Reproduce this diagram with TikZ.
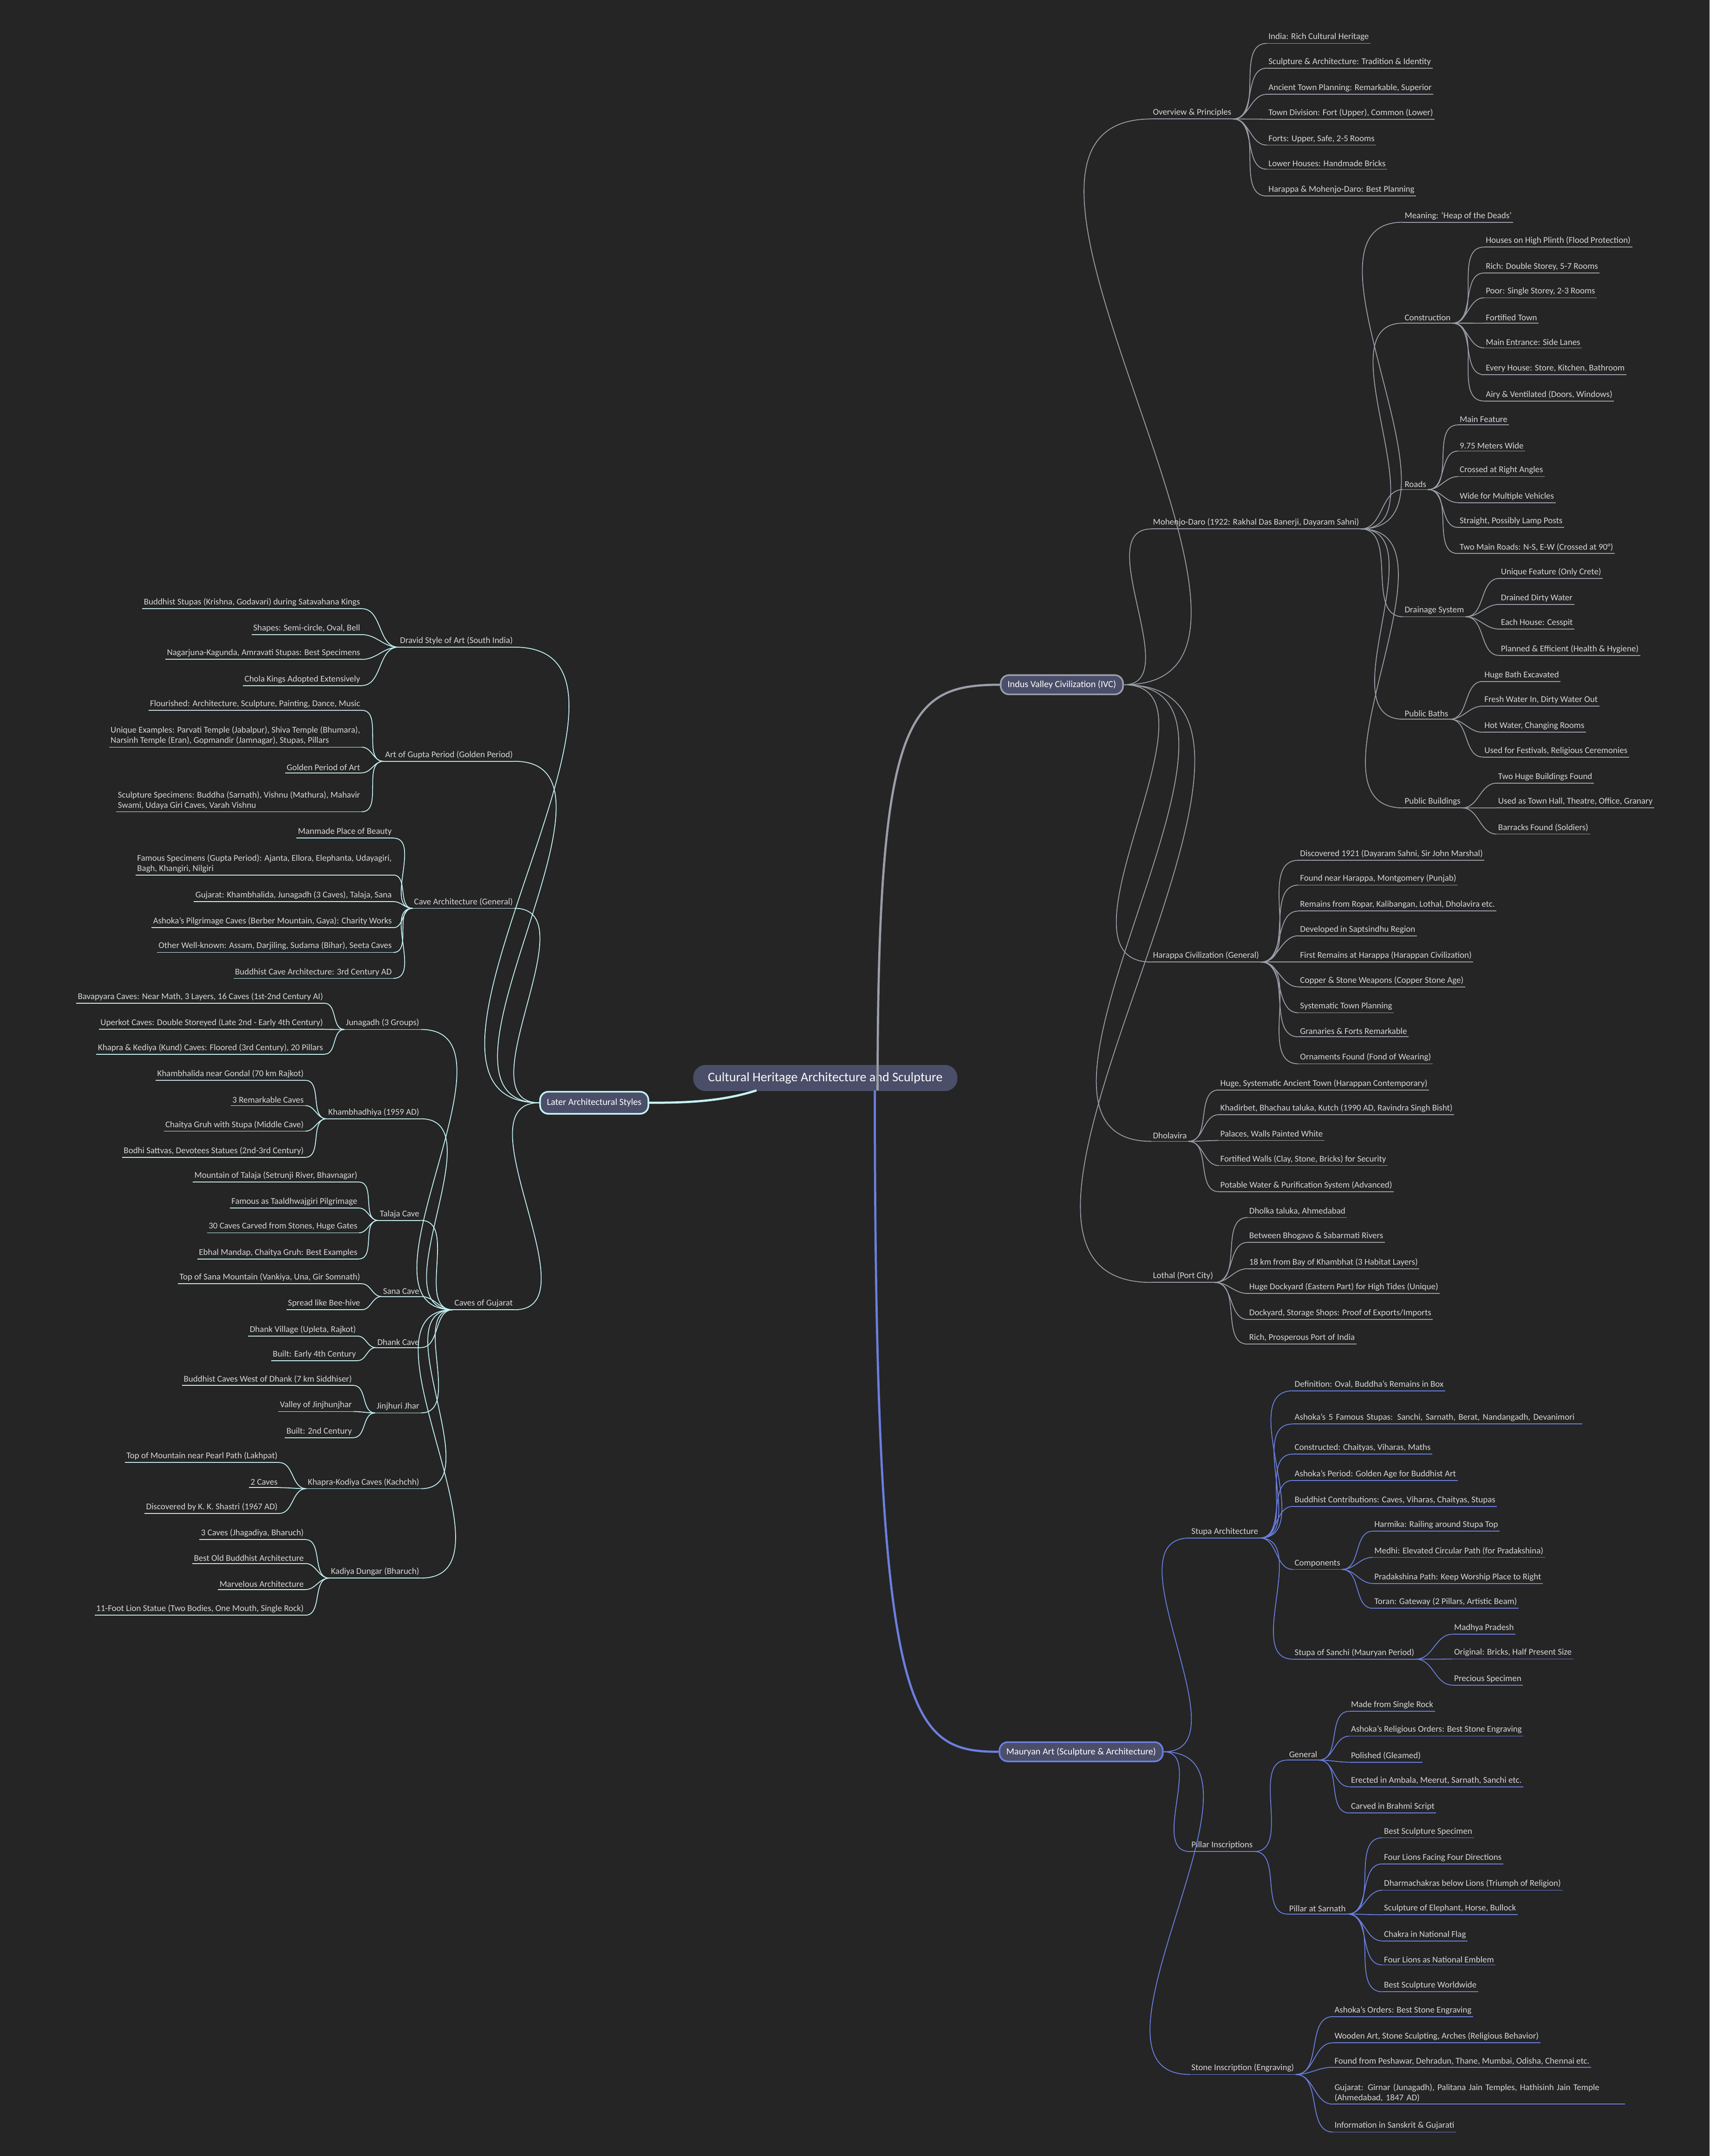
\documentclass[tikz,border=0pt]{standalone}
\usepackage{fontspec}
\setmainfont{Carlito}
\begin{document}
\begin{tikzpicture}[x=1pt,y=-1pt,
  leaf/.style={inner xsep=1pt,inner ysep=1.6pt,font=\fontsize{6.4}{7.4}\selectfont,text=txt,align=left,
    append after command={(\tikzlastnode.south west) edge[draw=br,line width=0.6pt] (\tikzlastnode.south east)}},
  conn/.style={draw=br,line width=0.6pt},
  pill/.style={draw=br,line width=1.2pt,fill=pillc,rounded corners=6pt,text=white,font=\fontsize{6.8}{8}\selectfont,minimum height=14pt,inner xsep=5pt},
  thick1/.style={draw=br,line width=1.6pt}]
\definecolor{bg}{HTML}{252525}
\definecolor{txt}{HTML}{D6D6D6}
\definecolor{pillc}{HTML}{4A4E69}
\definecolor{cgrey}{HTML}{9A9EA8}
\definecolor{cblue}{HTML}{6B7FE0}
\definecolor{ccyan}{HTML}{C4F2F5}
\fill[bg] (0,0) rectangle (1243,1568);
\useasboundingbox (0,0) rectangle (1243,1568);
\newcommand\RN[4]{\node[leaf,anchor=west] (#1) at (#2) {#3}; \draw[conn] (#4) to[out=0,in=180] (#1.south west);}
\newcommand\LN[4]{\node[leaf,anchor=east] (#1) at (#2) {#3}; \draw[conn] (#4) to[out=180,in=0] (#1.south east);}

\node[fill=pillc,rounded corners=9pt,text=white,font=\fontsize{9.5}{11}\selectfont,minimum height=19pt,minimum width=192pt] (root) at (600,784) {Cultural Heritage Architecture and Sculpture};

% ================= IVC =================
\begin{scope}
\colorlet{br}{cgrey}
\node[pill] (ivc) at (772,498) {Indus Valley Civilization (IVC)};
\draw[thick1] (638,793) .. controls (638,520) and (660,498) .. (ivc.west);
\RN{ov}{837,82}{Overview \& Principles}{ivc.east}
\RN{ov1}{921,27}{India: Rich Cultural Heritage}{ov.south east}
\RN{ov2}{921,45}{Sculpture \& Architecture: Tradition \& Identity}{ov.south east}
\RN{ov3}{921,64}{Ancient Town Planning: Remarkable, Superior}{ov.south east}
\RN{ov4}{921,82}{Town Division: Fort (Upper), Common (Lower)}{ov.south east}
\RN{ov5}{921,101}{Forts: Upper, Safe, 2-5 Rooms}{ov.south east}
\RN{ov6}{921,119}{Lower Houses: Handmade Bricks}{ov.south east}
\RN{ov7}{921,138}{Harappa \& Mohenjo-Daro: Best Planning}{ov.south east}

\RN{md}{837,380}{Mohenjo-Daro (1922: Rakhal Das Banerji, Dayaram Sahni)}{ivc.east}
\RN{md1}{1020,157}{Meaning: 'Heap of the Deads'}{md.south east}
\RN{co}{1020,231}{Construction}{md.south east}
\RN{co1}{1079,175}{Houses on High Plinth (Flood Protection)}{co.south east}
\RN{co2}{1079,194}{Rich: Double Storey, 5-7 Rooms}{co.south east}
\RN{co3}{1079,212}{Poor: Single Storey, 2-3 Rooms}{co.south east}
\RN{co4}{1079,231}{Fortified Town}{co.south east}
\RN{co5}{1079,249}{Main Entrance: Side Lanes}{co.south east}
\RN{co6}{1079,268}{Every House: Store, Kitchen, Bathroom}{co.south east}
\RN{co7}{1079,287}{Airy \& Ventilated (Doors, Windows)}{co.south east}
\RN{rd}{1020,352}{Roads}{md.south east}
\RN{rd1}{1060,305}{Main Feature}{rd.south east}
\RN{rd2}{1060,324}{9.75 Meters Wide}{rd.south east}
\RN{rd3}{1060,342}{Crossed at Right Angles}{rd.south east}
\RN{rd4}{1060,361}{Wide for Multiple Vehicles}{rd.south east}
\RN{rd5}{1060,379}{Straight, Possibly Lamp Posts}{rd.south east}
\RN{rd6}{1060,398}{Two Main Roads: N-S, E-W (Crossed at 90°)}{rd.south east}
\RN{dr}{1020,444}{Drainage System}{md.south east}
\RN{dr1}{1090,416}{Unique Feature (Only Crete)}{dr.south east}
\RN{dr2}{1090,435}{Drained Dirty Water}{dr.south east}
\RN{dr3}{1090,453}{Each House: Cesspit}{dr.south east}
\RN{dr4}{1090,472}{Planned \& Efficient (Health \& Hygiene)}{dr.south east}
\RN{pb}{1020,519}{Public Baths}{md.south east}
\RN{pb1}{1078,491}{Huge Bath Excavated}{pb.south east}
\RN{pb2}{1078,509}{Fresh Water In, Dirty Water Out}{pb.south east}
\RN{pb3}{1078,528}{Hot Water, Changing Rooms}{pb.south east}
\RN{pb4}{1078,546}{Used for Festivals, Religious Ceremonies}{pb.south east}
\RN{pu}{1020,583}{Public Buildings}{md.south east}
\RN{pu1}{1088,565}{Two Huge Buildings Found}{pu.south east}
\RN{pu2}{1088,583}{Used as Town Hall, Theatre, Office, Granary}{pu.south east}
\RN{pu3}{1088,602}{Barracks Found (Soldiers)}{pu.south east}

\RN{hc}{837,695}{Harappa Civilization (General)}{ivc.east}
\RN{hc1}{944,621}{Discovered 1921 (Dayaram Sahni, Sir John Marshal)}{hc.south east}
\RN{hc2}{944,639}{Found near Harappa, Montgomery (Punjab)}{hc.south east}
\RN{hc3}{944,658}{Remains from Ropar, Kalibangan, Lothal, Dholavira etc.}{hc.south east}
\RN{hc4}{944,676}{Developed in Saptsindhu Region}{hc.south east}
\RN{hc5}{944,695}{First Remains at Harappa (Harappan Civilization)}{hc.south east}
\RN{hc6}{944,713}{Copper \& Stone Weapons (Copper Stone Age)}{hc.south east}
\RN{hc7}{944,732}{Systematic Town Planning}{hc.south east}
\RN{hc8}{944,750}{Granaries \& Forts Remarkable}{hc.south east}
\RN{hc9}{944,769}{Ornaments Found (Fond of Wearing)}{hc.south east}

\RN{dh}{837,826}{Dholavira}{ivc.east}
\RN{dh1}{886,788}{Huge, Systematic Ancient Town (Harappan Contemporary)}{dh.south east}
\RN{dh2}{886,806}{Khadirbet, Bhachau taluka, Kutch (1990 AD, Ravindra Singh Bisht)}{dh.south east}
\RN{dh3}{886,825}{Palaces, Walls Painted White}{dh.south east}
\RN{dh4}{886,843}{Fortified Walls (Clay, Stone, Bricks) for Security}{dh.south east}
\RN{dh5}{886,862}{Potable Water \& Purification System (Advanced)}{dh.south east}

\RN{lo}{837,928}{Lothal (Port City)}{ivc.east}
\RN{lo1}{907,881}{Dholka taluka, Ahmedabad}{lo.south east}
\RN{lo2}{907,899}{Between Bhogavo \& Sabarmati Rivers}{lo.south east}
\RN{lo3}{907,918}{18 km from Bay of Khambhat (3 Habitat Layers)}{lo.south east}
\RN{lo4}{907,936}{Huge Dockyard (Eastern Part) for High Tides (Unique)}{lo.south east}
\RN{lo5}{907,955}{Dockyard, Storage Shops: Proof of Exports/Imports}{lo.south east}
\RN{lo6}{907,973}{Rich, Prosperous Port of India}{lo.south east}
\end{scope}

% ================= Mauryan =================
\begin{scope}
\colorlet{br}{cblue}
\node[pill] (ma) at (786,1274) {Mauryan Art (Sculpture \& Architecture)};
\draw[thick1] (636,793) .. controls (636,1250) and (660,1274) .. (ma.west);
\RN{st}{865,1114}{Stupa Architecture}{ma.east}
\RN{st1}{940,1007}{Definition: Oval, Buddha's Remains in Box}{st.south east}
\node[leaf,anchor=west,text width=208pt] (st2) at (940,1031) {Ashoka's 5 Famous Stupas: Sanchi, Sarnath, Berat, Nandangadh, Devanimori};
\draw[conn] (st.south east) to[out=0,in=180] (st2.south west);
\RN{st3}{940,1053}{Constructed: Chaityas, Viharas, Maths}{st.south east}
\RN{st4}{940,1072}{Ashoka's Period: Golden Age for Buddhist Art}{st.south east}
\RN{st5}{940,1091}{Buddhist Contributions: Caves, Viharas, Chaityas, Stupas}{st.south east}
\RN{cp}{940,1137}{Components}{st.south east}
\RN{cp1}{998,1109}{Harmika: Railing around Stupa Top}{cp.south east}
\RN{cp2}{998,1128}{Medhi: Elevated Circular Path (for Pradakshina)}{cp.south east}
\RN{cp3}{998,1147}{Pradakshina Path: Keep Worship Place to Right}{cp.south east}
\RN{cp4}{998,1165}{Toran: Gateway (2 Pillars, Artistic Beam)}{cp.south east}
\RN{sa}{940,1202}{Stupa of Sanchi (Mauryan Period)}{st.south east}
\RN{sa1}{1056,1184}{Madhya Pradesh}{sa.south east}
\RN{sa2}{1056,1202}{Original: Bricks, Half Present Size}{sa.south east}
\RN{sa3}{1056,1221}{Precious Specimen}{sa.south east}

\RN{pi}{865,1342}{Pillar Inscriptions}{ma.east}
\RN{ge}{936,1276}{General}{pi.south east}
\RN{ge1}{981,1240}{Made from Single Rock}{ge.south east}
\RN{ge2}{981,1258}{Ashoka's Religious Orders: Best Stone Engraving}{ge.south east}
\RN{ge3}{981,1277}{Polished (Gleamed)}{ge.south east}
\RN{ge4}{981,1295}{Erected in Ambala, Meerut, Sarnath, Sanchi etc.}{ge.south east}
\RN{ge5}{981,1314}{Carved in Brahmi Script}{ge.south east}
\RN{ps}{936,1388}{Pillar at Sarnath}{pi.south east}
\RN{ps1}{1005,1332}{Best Sculpture Specimen}{ps.south east}
\RN{ps2}{1005,1351}{Four Lions Facing Four Directions}{ps.south east}
\RN{ps3}{1005,1370}{Dharmachakras below Lions (Triumph of Religion)}{ps.south east}
\RN{ps4}{1005,1388}{Sculpture of Elephant, Horse, Bullock}{ps.south east}
\RN{ps5}{1005,1407}{Chakra in National Flag}{ps.south east}
\RN{ps6}{1005,1425}{Four Lions as National Emblem}{ps.south east}
\RN{ps7}{1005,1444}{Best Sculpture Worldwide}{ps.south east}

\RN{si}{865,1504}{Stone Inscription (Engraving)}{ma.east}
\RN{si1}{969,1462}{Ashoka's Orders: Best Stone Engraving}{si.south east}
\RN{si2}{969,1481}{Wooden Art, Stone Sculpting, Arches (Religious Behavior)}{si.south east}
\RN{si3}{969,1499}{Found from Peshawar, Dehradun, Thane, Mumbai, Odisha, Chennai etc.}{si.south east}
\node[leaf,anchor=west,text width=210pt] (si4) at (969,1522) {Gujarat: Girnar (Junagadh), Palitana Jain Temples, Hathisinh Jain Temple (Ahmedabad, 1847 AD)};
\draw[conn] (si.south east) to[out=0,in=180] (si4.south west);
\RN{si5}{969,1546}{Information in Sanskrit \& Gujarati}{si.south east}
\end{scope}

% ================= Later =================
\begin{scope}
\colorlet{br}{ccyan}
\node[pill,minimum height=16pt] (la) at (432,802) {Later Architectural Styles};
\draw[thick1] (550,793) .. controls (525,801) and (500,802) .. (la.east);
\LN{dv}{374,466}{Dravid Style of Art (South India)}{la.west}
\LN{dv1}{263,438}{Buddhist Stupas (Krishna, Godavari) during Satavahana Kings}{dv.south west}
\LN{dv2}{263,457}{Shapes: Semi-circle, Oval, Bell}{dv.south west}
\LN{dv3}{263,475}{Nagarjuna-Kagunda, Amravati Stupas: Best Specimens}{dv.south west}
\LN{dv4}{263,494}{Chola Kings Adopted Extensively}{dv.south west}

\LN{gu}{374,549}{Art of Gupta Period (Golden Period)}{la.west}
\LN{gu1}{263,512}{Flourished: Architecture, Sculpture, Painting, Dance, Music}{gu.south west}
\LN{gu2}{263,535}{Unique Examples: Parvati Temple (Jabalpur), Shiva Temple (Bhumara),\\Narsinh Temple (Eran), Gopmandir (Jamnagar), Stupas, Pillars}{gu.south west}
\LN{gu3}{263,558}{Golden Period of Art}{gu.south west}
\LN{gu4}{263,582}{Sculpture Specimens: Buddha (Sarnath), Vishnu (Mathura), Mahavir\\Swami, Udaya Giri Caves, Varah Vishnu}{gu.south west}

\LN{ca}{374,656}{Cave Architecture (General)}{la.west}
\LN{ca1}{286,605}{Manmade Place of Beauty}{ca.south west}
\LN{ca2}{286,628}{Famous Specimens (Gupta Period): Ajanta, Ellora, Elephanta, Udayagiri,\\Bagh, Khangiri, Nilgiri}{ca.south west}
\LN{ca3}{286,651}{Gujarat: Khambhalida, Junagadh (3 Caves), Talaja, Sana}{ca.south west}
\LN{ca4}{286,670}{Ashoka's Pilgrimage Caves (Berber Mountain, Gaya): Charity Works}{ca.south west}
\LN{ca5}{286,688}{Other Well-known: Assam, Darjiling, Sudama (Bihar), Seeta Caves}{ca.south west}
\LN{ca6}{286,707}{Buddhist Cave Architecture: 3rd Century AD}{ca.south west}

\LN{cg}{374,948}{Caves of Gujarat}{la.west}
\LN{jg}{306,744}{Junagadh (3 Groups)}{cg.south west}
\LN{jg1}{236,725}{Bavapyara Caves: Near Math, 3 Layers, 16 Caves (1st-2nd Century AI)}{jg.south west}
\LN{jg2}{236,744}{Uperkot Caves: Double Storeyed (Late 2nd - Early 4th Century)}{jg.south west}
\LN{jg3}{236,762}{Khapra \& Kediya (Kund) Caves: Floored (3rd Century), 20 Pillars}{jg.south west}
\LN{kb}{306,809}{Khambhadhiya (1959 AD)}{cg.south west}
\LN{kb1}{222,781}{Khambhalida near Gondal (70 km Rajkot)}{kb.south west}
\LN{kb2}{222,800}{3 Remarkable Caves}{kb.south west}
\LN{kb3}{222,818}{Chaitya Gruh with Stupa (Middle Cave)}{kb.south west}
\LN{kb4}{222,837}{Bodhi Sattvas, Devotees Statues (2nd-3rd Century)}{kb.south west}
\LN{tj}{306,883}{Talaja Cave}{cg.south west}
\LN{tj1}{261,855}{Mountain of Talaja (Setrunji River, Bhavnagar)}{tj.south west}
\LN{tj2}{261,874}{Famous as Taaldhwajgiri Pilgrimage}{tj.south west}
\LN{tj3}{261,892}{30 Caves Carved from Stones, Huge Gates}{tj.south west}
\LN{tj4}{261,911}{Ebhal Mandap, Chaitya Gruh: Best Examples}{tj.south west}
\LN{sn}{306,939}{Sana Cave}{cg.south west}
\LN{sn1}{263,929}{Top of Sana Mountain (Vankiya, Una, Gir Somnath)}{sn.south west}
\LN{sn2}{263,948}{Spread like Bee-hive}{sn.south west}
\LN{dk}{306,976}{Dhank Cave}{cg.south west}
\LN{dk1}{260,967}{Dhank Village (Upleta, Rajkot)}{dk.south west}
\LN{dk2}{260,985}{Built: Early 4th Century}{dk.south west}
\LN{jj}{306,1023}{Jinjhuri Jhar}{cg.south west}
\LN{jj1}{257,1003}{Buddhist Caves West of Dhank (7 km Siddhiser)}{jj.south west}
\LN{jj2}{257,1022}{Valley of Jinjhunjhar}{jj.south west}
\LN{jj3}{257,1041}{Built: 2nd Century}{jj.south west}
\LN{kk}{306,1078}{Khapra-Kodiya Caves (Kachchh)}{cg.south west}
\LN{kk1}{203,1059}{Top of Mountain near Pearl Path (Lakhpat)}{kk.south west}
\LN{kk2}{203,1078}{2 Caves}{kk.south west}
\LN{kk3}{203,1096}{Discovered by K. K. Shastri (1967 AD)}{kk.south west}
\LN{kd}{306,1143}{Kadiya Dungar (Bharuch)}{cg.south west}
\LN{kd1}{222,1115}{3 Caves (Jhagadiya, Bharuch)}{kd.south west}
\LN{kd2}{222,1133}{Best Old Buddhist Architecture}{kd.south west}
\LN{kd3}{222,1152}{Marvelous Architecture}{kd.south west}
\LN{kd4}{222,1170}{11-Foot Lion Statue (Two Bodies, One Mouth, Single Rock)}{kd.south west}
\end{scope}
\end{tikzpicture}
\end{document}
